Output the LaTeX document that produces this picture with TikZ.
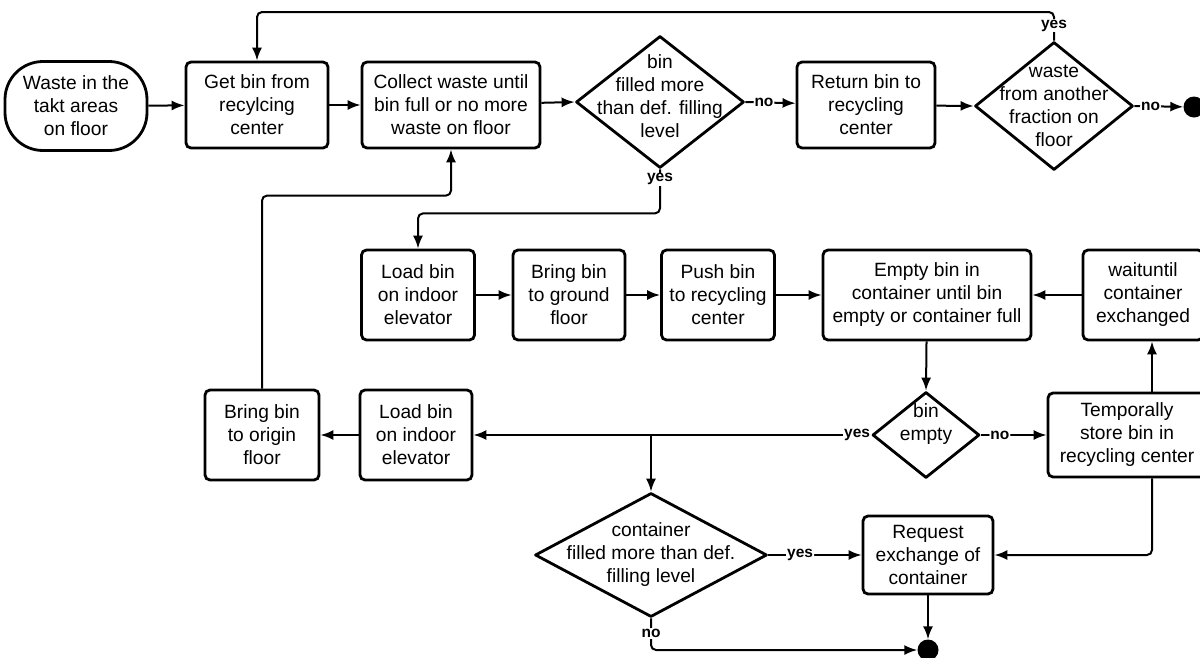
\documentclass[tikz,border=0pt]{standalone}
\usepackage{fontspec}
\setmainfont{Liberation Sans}
\usetikzlibrary{shapes.geometric,arrows.meta}
\begin{document}
\begin{tikzpicture}[x=1pt,y=-1pt,
 every node/.style={font=\fontsize{19.2}{23}\selectfont, align=center},
 box/.style={draw, line width=2.8pt, rounded corners=5pt, inner sep=0pt, minimum height=88pt},
 term/.style={draw, line width=2.8pt, rounded corners=38pt, inner sep=0pt, minimum width=142pt, minimum height=89pt},
 dia/.style={draw, diamond, line width=2.8pt, line join=round, inner sep=0pt},
 endc/.style={circle, fill, draw=none, inner sep=0pt, minimum size=21pt},
 arr/.style={line width=2pt, -{Latex[length=13pt,width=10pt]}, rounded corners=5pt},
 lab/.style={font=\fontsize{15.5}{17}\bfseries\selectfont, fill=white, inner sep=1pt},
]
\useasboundingbox (0,0) rectangle (1200,657);
% row 1
\node[term] (start) at (76,106) {Waste in the\\takt areas\\on floor};
\node[box, minimum width=142pt, minimum height=86pt] (get) at (257,105) {Get bin from\\recylcing\\center};
\node[box, minimum width=178pt, minimum height=86pt] (collect) at (451,105) {Collect waste until\\bin full or no more\\waste on floor};
\node[dia, minimum width=168pt, minimum height=132pt, label={[yshift=6pt]center:{bin\\filled more\\than def. filling\\level}}] (d1) at (660,102) {};
\node[box, minimum width=138pt, minimum height=86pt] (ret) at (866,105) {Return bin to\\recycling\\center};
\node[dia, minimum width=158pt, minimum height=128pt, label={center:{waste\\from another\\fraction on\\floor}}] (d2) at (1054,106) {};
\node[endc] (end1) at (1194,107) {};
% row 2
\node[box, minimum width=113pt, minimum height=90pt] (load1) at (418,295) {Load bin\\on indoor\\elevator};
\node[box, minimum width=112pt, minimum height=90pt] (ground) at (569,295) {Bring bin\\to ground\\floor};
\node[box, minimum width=113pt, minimum height=90pt] (push) at (718,295) {Push bin\\to recycling\\center};
\node[box, minimum width=208pt, minimum height=90pt] (emptyb) at (927,295) {Empty bin in\\container until bin\\empty or container full};
\node[box, minimum width=120pt, minimum height=90pt] (wait) at (1143,295) {waituntil\\container\\exchanged};
% row 3
\node[box, minimum width=114pt, minimum height=90pt] (origin) at (262,435) {Bring bin\\to origin\\floor};
\node[box, minimum width=112pt, minimum height=90pt] (load2) at (416,435) {Load bin\\on indoor\\elevator};
\node[dia, minimum width=107pt, minimum height=86pt, label={[yshift=11pt]center:{bin\\empty}}] (d3) at (926,435) {};
\node[box, minimum width=158pt, minimum height=84pt] (temp) at (1127,435) {Temporally\\store bin in\\recycling center};
% row 4
\node[dia, minimum width=232pt, minimum height=124pt, label={center:{container\\filled more than def.\\filling level}}] (d4) at (651,555) {};
\node[box, minimum width=130pt, minimum height=78pt] (req) at (928,555) {Request\\exchange of\\container};
\node[endc] (end2) at (928,650) {};
% connectors row 1
\draw[arr] (start) -- (get);
\draw[arr] (get) -- (collect);
\draw[arr] (collect) -- (d1.west);
\draw[arr] (d1.east) -- node[lab, pos=0.37] {no} (ret);
\draw[arr] (ret) -- (d2.west);
\draw[arr] (d2.east) -- node[lab, pos=0.33] {no} (end1);
\coordinate (top) at (0,12);
\draw[arr] (d2.north) -- (d2.north |- top) -| (get.north);
\node[lab] at ([yshift=15pt]d2.north) {yes};
% d1 yes
\draw[arr] (d1.south) -- ++(0,44) -| (load1.north);
\node[lab] at ([yshift=-10pt]d1.south) {yes};
% row 2
\draw[arr] (load1) -- (ground);
\draw[arr] (ground) -- (push);
\draw[arr] (push) -- (emptyb);
\draw[arr] (wait) -- (emptyb);
\draw[arr] (emptyb) -- (d3.north);
% row 3
\draw[arr] (d3.west) -- (load2.east);
\node[lab] at ([xshift=-14pt]d3.west) {yes};
\draw[arr] (d3.east) -- node[lab, pos=0.29] {no} (temp.west);
\draw[arr] (load2) -- (origin);
\draw[arr] (origin.north) -- ++(0,-193) -| (collect.south);
\draw[arr] ([xshift=25pt]temp.north) -- ([xshift=25pt]temp.north |- wait.south);
\draw[arr] ([xshift=25pt]temp.south) |- (req.east);
\draw[arr] (d4.north |- d3.west) -- (d4.north);
% row 4
\draw[arr] (d4.east) -- node[lab, pos=0.34] {yes} (req.west);
\draw[arr] (req) -- (end2);
\draw[arr] (d4.south) |- (end2.west);
\node[lab] at ([yshift=-15pt]d4.south) {no};
\end{tikzpicture}
\end{document}
